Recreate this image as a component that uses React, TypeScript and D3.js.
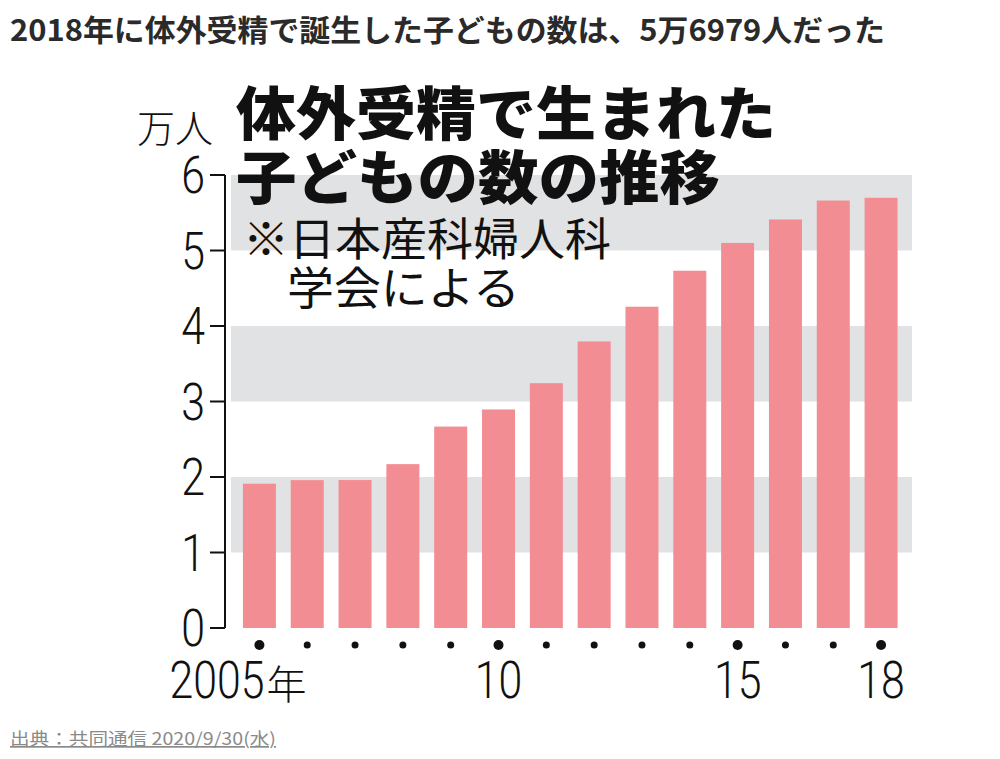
import React from "react";
import * as d3 from "d3";

const years = [2005, 2006, 2007, 2008, 2009, 2010, 2011, 2012, 2013, 2014, 2015, 2016, 2017, 2018];
const births = [19112, 19587, 19595, 21704, 26680, 28945, 32426, 37953, 42554, 47322, 51001, 54110, 56617, 56979];
const yTicks = [0, 1, 2, 3, 4, 5, 6];
const bands: [number, number][] = [[1, 2], [3, 4], [5, 6]];
const xLabels: { year: number; text: string }[] = [
  { year: 2005, text: "2005年" },
  { year: 2010, text: "10" },
  { year: 2015, text: "15" },
  { year: 2018, text: "18" },
];
const bigDots = [2005, 2010, 2015, 2018];
const headline = "2018年に体外受精で誕生した子どもの数は、5万6979人だった";
const titleLines = ["体外受精で生まれた", "子どもの数の推移"];
const noteLines = ["※日本産科婦人科", "学会による"];
const unitLabel = "万人";
const sourceText = "出典：共同通信 2020/9/30(水)";

const NUM_FONT = "Roboto, 'Liberation Sans', sans-serif";
const JP_FONT = "'Noto Sans CJK JP', sans-serif";

export default function App() {
  const y = d3.scaleLinear().domain([0, 6]).range([628, 175]);
  const x = d3
    .scaleBand<number>()
    .domain(years)
    .range([235.5, 905])
    .paddingInner(0.31)
    .paddingOuter(0.155);
  const cx = (yr: number) => (x(yr) as number) + x.bandwidth() / 2;
  const axisX = 225;

  return (
    <svg
      width={1000}
      height={759}
      style={{ position: "absolute", left: 0, top: 0, background: "#fff" }}
    >
      <text x={10} y={41} fontFamily={JP_FONT} fontWeight={700} fontSize={30} fill="#2a2a2a" textLength={875} lengthAdjust="spacingAndGlyphs">
        {headline}
      </text>

      {bands.map(([a, b]) => (
        <rect key={a} x={231} y={y(b)} width={681} height={y(a) - y(b)} fill="#e1e2e4" />
      ))}

      {births.map((v, i) => (
        <rect
          key={years[i]}
          x={x(years[i])}
          y={y(v / 10000)}
          width={x.bandwidth()}
          height={y(0) - y(v / 10000)}
          fill="#f38d94"
        />
      ))}

      <line x1={axisX} x2={axisX} y1={y(6)} y2={y(0)} stroke="#111" strokeWidth={2} />
      {yTicks.map((t) => (
        <g key={t}>
          <line x1={210} x2={axisX} y1={y(t)} y2={y(t)} stroke="#111" strokeWidth={2} />
          <text
            x={0}
            y={0}
            transform={`translate(205,${y(t) + 18}) scale(0.84,1)`}
            textAnchor="end"
            fontFamily={NUM_FONT}
            fontWeight={300}
            fontSize={51}
            fill="#111"
          >
            {t}
          </text>
        </g>
      ))}

      {years.map((yr) => (
        <circle key={yr} cx={cx(yr)} cy={645} r={bigDots.includes(yr) ? 5 : 3.5} fill="#111" />
      ))}

      {xLabels.map((l) =>
        l.year === 2005 ? (
          <g key={l.year} transform={`translate(${cx(l.year) - 90},698)`}>
            <text transform="scale(0.84,1)" fontFamily={NUM_FONT} fontWeight={300} fontSize={51} fill="#111">
              2005
            </text>
            <text x={97} y={1} fontFamily={JP_FONT} fontWeight={300} fontSize={40} fill="#111">
              年
            </text>
          </g>
        ) : (
          <text
            key={l.year}
            transform={`translate(${cx(l.year)},698) scale(0.84,1)`}
            textAnchor="middle"
            fontFamily={NUM_FONT}
            fontWeight={300}
            fontSize={51}
            fill="#111"
          >
            {l.text}
          </text>
        )
      )}

      <text x={137} y={142} fontFamily={JP_FONT} fontWeight={300} fontSize={38} fill="#111">
        {unitLabel}
      </text>

      {titleLines.map((t, i) => (
        <text key={t} x={236} y={135 + i * 64} fontFamily={JP_FONT} fontWeight={800} fontSize={58} fill="#111" textLength={i === 0 ? 540 : 484} lengthAdjust="spacingAndGlyphs">
          {t}
        </text>
      ))}

      <text x={243} y={256} fontFamily={JP_FONT} fontWeight={400} fontSize={45} fill="#111" textLength={368} lengthAdjust="spacingAndGlyphs">
        {noteLines[0]}
      </text>
      <text x={287} y={305} fontFamily={JP_FONT} fontWeight={400} fontSize={45} fill="#111" textLength={233} lengthAdjust="spacingAndGlyphs">
        {noteLines[1]}
      </text>

      <text x={10} y={745} fontFamily={JP_FONT} fontSize={17} fill="#8a8a8a" textDecoration="underline" textLength={266} lengthAdjust="spacingAndGlyphs">
        {sourceText}
      </text>
    </svg>
  );
}
